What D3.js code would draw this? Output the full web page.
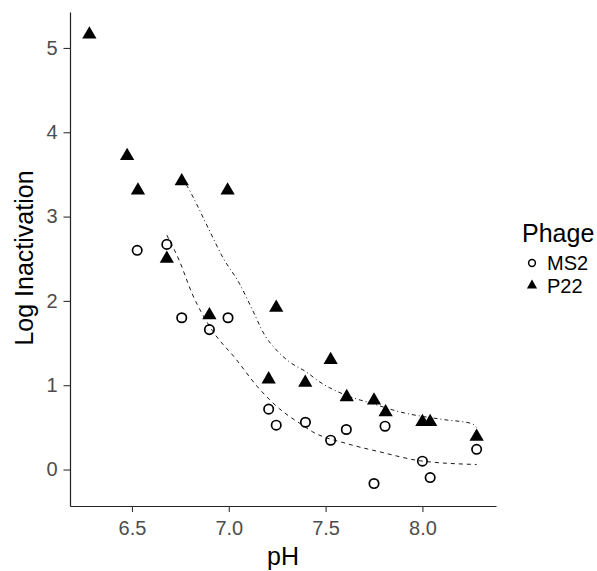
<!DOCTYPE html>
<html>
<head>
<meta charset="utf-8">
<script src="https://cdn.jsdelivr.net/npm/d3@7"></script>
<style>
  html, body { margin: 0; padding: 0; background: #fff; }
  svg { display: block; font-family: "Liberation Sans", Arial, sans-serif; }
</style>
</head>
<body>
<svg id="chart" width="597" height="571"></svg>
<script>
// ---- data ----
const ms2_pH  = [6.527, 6.68, 6.757, 6.90, 6.996, 7.206, 7.245, 7.396, 7.526, 7.607, 7.75, 7.807, 8.0, 8.04, 8.28];
const ms2_log = [2.60, 2.67, 1.80, 1.66, 1.80, 0.716, 0.526, 0.561, 0.348, 0.475, -0.166, 0.514, 0.099, -0.095, 0.24];

const p22_pH  = [6.28, 6.475, 6.531, 6.68, 6.757, 6.90, 6.994, 7.206, 7.245, 7.395, 7.526, 7.609, 7.75, 7.81, 8.0, 8.04, 8.28];
const p22_log = [5.16, 3.72, 3.31, 2.50, 3.42, 1.83, 3.31, 1.07, 1.92, 1.03, 1.30, 0.86, 0.82, 0.68, 0.565, 0.565, 0.39];

// fitted smooth curves
const ms2_fit_pH  = [6.68, 6.744, 6.81, 6.915, 7.037, 7.149, 7.262, 7.365, 7.434, 7.606, 7.78, 8.0, 8.28];
const ms2_fit_log = [2.78, 2.48, 2.09, 1.65, 1.31, 0.98, 0.72, 0.55, 0.446, 0.31, 0.21, 0.10, 0.06];

const p22_fit_pH  = [6.77, 6.787, 6.899, 6.968, 7.054, 7.123, 7.184, 7.245, 7.313, 7.40, 7.469, 7.607, 7.745, 7.883, 8.108, 8.254, 8.28];
const p22_fit_log = [3.42, 3.354, 2.84, 2.52, 2.21, 1.89, 1.60, 1.42, 1.277, 1.158, 1.04, 0.88, 0.78, 0.684, 0.593, 0.546, 0.50];

const xTicks = [6.5, 7.0, 7.5, 8.0];
const yTicks = [0, 1, 2, 3, 4, 5];
const seriesNames = ["MS2", "P22"];
const xTitle = "pH";
const yTitle = "Log Inactivation";
const legendTitle = "Phage";

// ---- layout ----
const svg = d3.select("#chart");
const L = 70, R = 496, T = 12, B = 506;

const allX = ms2_pH.concat(p22_pH), allY = ms2_log.concat(p22_log);
function expand(ext) { const d = (ext[1] - ext[0]) * 0.05; return [ext[0] - d, ext[1] + d]; }
const x = d3.scaleLinear().domain(expand(d3.extent(allX))).range([L, R]);
const y = d3.scaleLinear().domain(expand(d3.extent(allY))).range([B, T]);

// axes
const xAxis = svg.append("g").attr("transform", `translate(0,${B})`)
  .call(d3.axisBottom(x).tickValues(xTicks).tickFormat(d3.format(".1f")).tickSize(6).tickPadding(9).tickSizeOuter(0));
const yAxis = svg.append("g").attr("transform", `translate(${L},0)`)
  .call(d3.axisLeft(y).tickValues(yTicks).tickFormat(d3.format("d")).tickSize(6.5).tickPadding(6).tickSizeOuter(0));

[xAxis, yAxis].forEach(g => {
  g.select(".domain").attr("stroke", "#222").attr("stroke-width", 1.2);
  g.selectAll(".tick line").attr("stroke", "#333").attr("stroke-width", 1.1);
  g.selectAll(".tick text").attr("fill", "#4D4D4D").style("font-size", "20px")
    .style("font-family", "'Liberation Sans', Arial, sans-serif");
});

// axis titles
svg.append("text").attr("x", (L + R) / 2).attr("y", 565).attr("text-anchor", "middle")
  .style("font-size", "25px").attr("fill", "#000").text(xTitle);
svg.append("text").attr("transform", `translate(33,258) rotate(-90)`).attr("text-anchor", "middle")
  .style("font-size", "25px").attr("fill", "#000").text(yTitle);

// fitted lines
const line = d3.line().x(d => x(d[0])).y(d => y(d[1])).curve(d3.curveMonotoneX);
svg.append("path").datum(d3.zip(ms2_fit_pH, ms2_fit_log)).attr("d", line)
  .attr("fill", "none").attr("stroke", "#000").attr("stroke-width", 0.9).attr("stroke-dasharray", "4,4");
svg.append("path").datum(d3.zip(p22_fit_pH, p22_fit_log)).attr("d", line)
  .attr("fill", "none").attr("stroke", "#000").attr("stroke-width", 0.9).attr("stroke-dasharray", "1,3,4,3");

// points
const tri = d3.symbol().type(d3.symbolTriangle).size(88);
svg.append("g").selectAll("circle").data(d3.zip(ms2_pH, ms2_log)).join("circle")
  .attr("cx", d => x(d[0])).attr("cy", d => y(d[1])).attr("r", 4.7)
  .attr("fill", "none").attr("stroke", "#000").attr("stroke-width", 1.7);
svg.append("g").selectAll("path").data(d3.zip(p22_pH, p22_log)).join("path")
  .attr("transform", d => `translate(${x(d[0])},${y(d[1])})`).attr("d", tri).attr("fill", "#000");

// legend
const lg = svg.append("g");
lg.append("text").attr("x", 522).attr("y", 242).style("font-size", "25px").attr("fill", "#000").text(legendTitle);
const keyY = [263, 285.5];
lg.append("circle").attr("cx", 532).attr("cy", keyY[0]).attr("r", 3.4)
  .attr("fill", "none").attr("stroke", "#000").attr("stroke-width", 1.5);
lg.append("path").attr("transform", `translate(532,${keyY[1]})`)
  .attr("d", d3.symbol().type(d3.symbolTriangle).size(45)()).attr("fill", "#000");
seriesNames.forEach((n, i) => {
  lg.append("text").attr("x", 547).attr("y", keyY[i] + 7).style("font-size", "20px").attr("fill", "#000").text(n);
});
</script>
</body>
</html>
